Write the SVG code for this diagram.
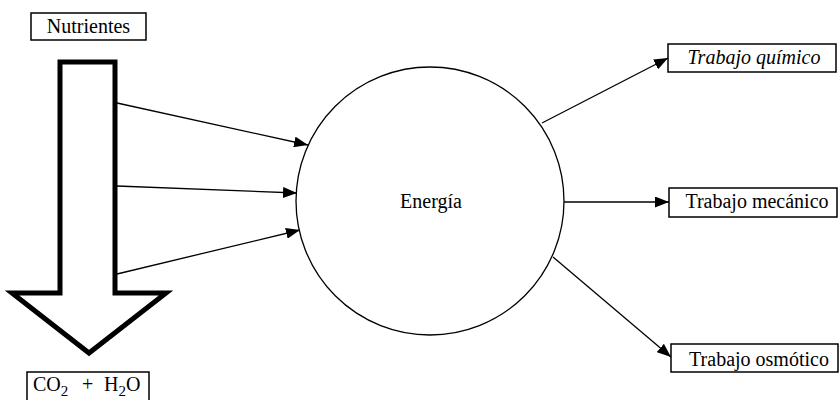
<svg xmlns="http://www.w3.org/2000/svg" width="840" height="400" viewBox="0 0 840 400">
<defs>
<style>
.box{fill:#fff;stroke:#000;stroke-width:1.5}
.lbl{font-family:"Liberation Serif","Times New Roman",serif;font-size:20px;fill:#000}
.conn{stroke:#000;stroke-width:1.3;fill:none;marker-end:url(#ah)}
</style>
<marker id="ah" markerUnits="userSpaceOnUse" markerWidth="15" markerHeight="11" refX="14" refY="5.5" orient="auto">
<path d="M0,0 L14,5.5 L0,11 Z" fill="#000"/>
</marker>
</defs>
<rect width="840" height="400" fill="#fff"/>
<g id="nutrientes">
<rect class="box" x="31" y="13" width="115" height="27"/>
<text class="lbl" x="88.5" y="33" text-anchor="middle" font-size="20.5">Nutrientes</text>
</g>
<g id="flecha-grande">
<polygon points="60,62 115,62 115,293 166,293 89,353 12,293 60,293" fill="#fff" stroke="#000" stroke-width="5" stroke-linejoin="miter"/>
</g>
<g id="co2-h2o">
<rect class="box" x="27" y="372" width="122" height="32"/>
<text class="lbl" y="391" font-size="22"><tspan x="33">CO</tspan><tspan font-size="15" dy="5">2</tspan><tspan x="82" dy="-5">+</tspan><tspan x="104">H</tspan><tspan font-size="15" dy="5">2</tspan><tspan dy="-5">O</tspan></text>
</g>
<g id="energia">
<circle cx="430" cy="201" r="134" fill="#fff" stroke="#000" stroke-width="1.3"/>
<text class="lbl" x="431" y="208" text-anchor="middle" font-size="20.5">Energía</text>
</g>
<g id="trabajo-quimico">
<rect class="box" x="668" y="44" width="168" height="28"/>
<text class="lbl" x="754" y="64" text-anchor="middle" font-style="italic" font-size="21">Trabajo químico</text>
</g>
<g id="trabajo-mecanico">
<rect class="box" x="669" y="188" width="168" height="29"/>
<text class="lbl" x="757" y="208" text-anchor="middle" font-size="20.7">Trabajo mecánico</text>
</g>
<g id="trabajo-osmotico">
<rect class="box" x="671" y="344" width="167" height="28"/>
<text class="lbl" x="759" y="366" text-anchor="middle" font-size="21.5">Trabajo osmótico</text>
</g>
<g id="conectores">
<line class="conn" x1="117" y1="103" x2="308" y2="145"/>
<line class="conn" x1="117" y1="186" x2="297" y2="193"/>
<line class="conn" x1="117" y1="274" x2="300" y2="230"/>
<line class="conn" x1="542" y1="123" x2="668" y2="58"/>
<line class="conn" x1="564" y1="202" x2="669" y2="202"/>
<line class="conn" x1="553" y1="257" x2="671" y2="357"/>
</g>
</svg>
